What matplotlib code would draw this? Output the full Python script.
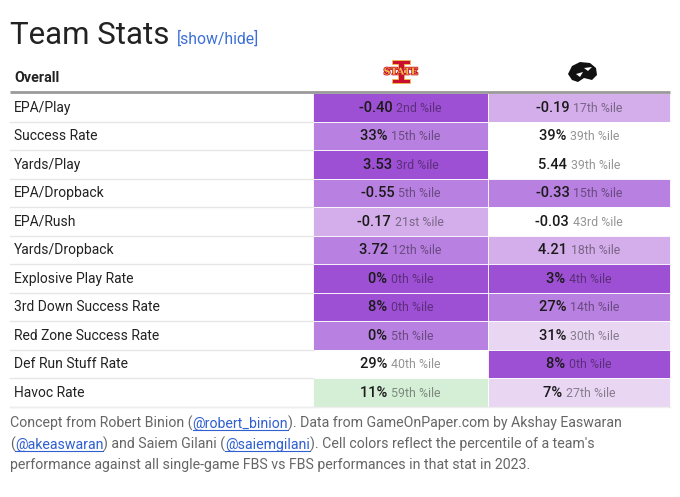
import matplotlib
matplotlib.use("Agg")
import matplotlib.pyplot as plt
import matplotlib.patheffects as pe
from matplotlib.colors import ListedColormap, BoundaryNorm
from matplotlib.patches import Rectangle, Ellipse, Polygon

plt.rcParams['font.family'] = ['Roboto', 'DejaVu Sans']

stats = ["EPA/Play", "Success Rate", "Yards/Play", "EPA/Dropback", "EPA/Rush",
         "Yards/Dropback", "Explosive Play Rate", "3rd Down Success Rate",
         "Red Zone Success Rate", "Def Run Stuff Rate", "Havoc Rate"]
isu_vals = ["-0.40", "33%", "3.53", "-0.55", "-0.17", "3.72", "0%", "8%", "0%", "29%", "11%"]
isu_pct = [2, 15, 3, 5, 21, 12, 0, 0, 5, 40, 59]
iowa_vals = ["-0.19", "39%", "5.44", "-0.33", "-0.03", "4.21", "3%", "27%", "31%", "8%", "7%"]
iowa_pct = [17, 39, 39, 15, 43, 18, 4, 14, 30, 0, 27]

# percentile -> cell colour
pct_bounds = [0, 5, 16, 25, 35, 55, 65, 101]
pct_colors = ["#9e50d4", "#b880e0", "#d3aeea", "#e9d6f3", "#ffffff", "#d5eed6", "#a9dcae"]
cmap = ListedColormap(pct_colors)
norm = BoundaryNorm(pct_bounds, cmap.N)


def ordinal(n):
    if 10 <= n % 100 <= 20:
        suf = "th"
    else:
        suf = {1: "st", 2: "nd", 3: "rd"}.get(n % 10, "th")
    return "%d%s" % (n, suf)


fig = plt.figure(figsize=(6.8, 4.97), dpi=100)
ax = fig.add_axes([0, 0, 1, 1])
ax.set_xlim(0, 680)
ax.set_ylim(497, 0)
ax.axis("off")
renderer = fig.canvas.get_renderer()


def put_runs(x, y, runs, ha="left"):
    """place a list of (text, kwargs) runs side by side on one baseline"""
    objs = []
    widths = []
    for s, kw in runs:
        t = ax.text(0, y, s, va="baseline", ha="left", **kw)
        w = t.get_window_extent(renderer).width
        objs.append(t)
        widths.append(w)
    total = sum(widths)
    cx = x - total / 2 if ha == "center" else x
    out = []
    for t, w in zip(objs, widths):
        t.set_x(cx)
        out.append((cx, cx + w))
        cx += w
    return out


# title
ax.text(10, 44, "Team Stats", fontsize=22.5, color="#222222", va="baseline")
ax.text(177, 44, "[show/hide]", fontsize=11.3, color="#3b6fd6", va="baseline")

# header
x0, x1, x2, x3 = 10, 313, 488, 670
ax.text(14, 82, "Overall", fontsize=10.3, fontweight="bold", color="#222222", va="baseline")
ax.plot([x0, x3], [92, 92], color="#9a9a9a", lw=2, solid_capstyle="butt")

# ISU logo (rough)
ax.add_patch(Polygon([(392, 60), (410, 60), (410, 64), (404, 64), (404, 79), (410, 79),
                      (410, 83), (392, 83), (392, 79), (398, 79), (398, 64), (392, 64)],
                     closed=True, facecolor="#c8102e", edgecolor="#f1be48", lw=0.6))
ax.text(401, 72, "STATE", fontsize=6.8, fontweight="bold", color="#f1be48",
        ha="center", va="center", fontfamily="DejaVu Serif",
        path_effects=[pe.withStroke(linewidth=1.2, foreground="#c8102e")])
# Iowa hawk (rough)
ax.add_patch(Polygon([(568, 74), (572, 66), (580, 62), (590, 63), (596, 68), (597, 75),
                      (592, 80), (584, 78), (578, 82), (572, 80)],
                     closed=True, facecolor="#111111"))
ax.add_patch(Polygon([(584, 68), (592, 67), (588, 71)], closed=True, facecolor="white"))
ax.add_patch(Polygon([(576, 74), (583, 72), (580, 77)], closed=True, facecolor="white"))

# rows
row_top = 93
row_h = 28.5
for i, name in enumerate(stats):
    top = row_top + i * row_h
    mid = top + row_h / 2
    ax.text(14, mid + 4.5, name, fontsize=10, color="#222222", va="baseline")
    for (xa, xb), val, pct in [((x1, x2), isu_vals[i], isu_pct[i]),
                               ((x2, x3), iowa_vals[i], iowa_pct[i])]:
        ax.add_patch(Rectangle((xa, top), xb - xa, row_h, facecolor=cmap(norm(pct)),
                               edgecolor="#ffffff", lw=0.6))
        put_runs((xa + xb) / 2, mid + 4.5,
                 [(val + " ", dict(fontsize=10.5, fontweight="medium", color="#1a1a1a")),
                  (ordinal(pct) + " %ile", dict(fontsize=8.9, color="#000000", alpha=0.42))],
                 ha="center")
    ax.plot([x0, x1], [top + row_h, top + row_h], color="#e6e6e6", lw=1)
ax.plot([x0, x3], [row_top + len(stats) * row_h + 0.5] * 2, color="#eeeeee", lw=1)

# footer with links
grey = dict(fontsize=10.2, color="#666666")
link = dict(fontsize=10.2, color="#2f5fd0")
footer = [
    [("Concept from Robert Binion (", grey), ("@robert_binion", link),
     ("). Data from GameOnPaper.com by Akshay Easwaran", grey)],
    [("(", grey), ("@akeaswaran", link), (") and Saiem Gilani (", grey), ("@saiemgilani", link),
     ("). Cell colors reflect the percentile of a team's", grey)],
    [("performance against all single-game FBS vs FBS performances in that stat in 2023.", grey)],
]
for j, line in enumerate(footer):
    y = 428 + j * 20.5
    spans = put_runs(10, y, line)
    for (s, kw), (a, b) in zip(line, spans):
        if kw is link:
            ax.plot([a, b], [y + 2, y + 2], color="#2f5fd0", lw=0.8)

fig.savefig("out.png", dpi=100, facecolor="white")
